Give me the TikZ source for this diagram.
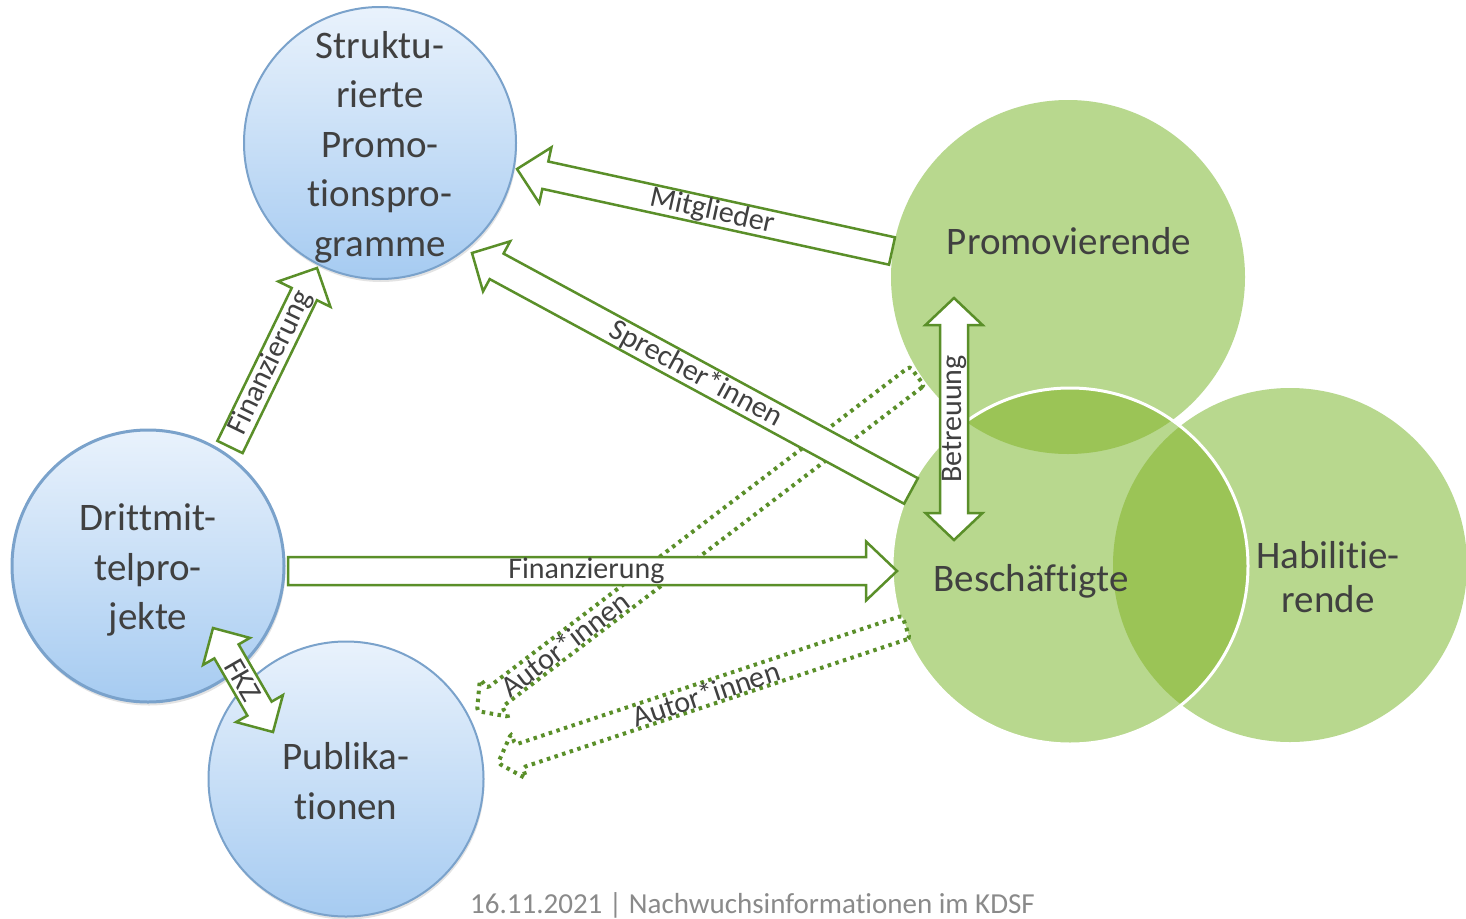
\documentclass[tikz,border=0pt]{standalone}
\usepackage{fontspec}
\setmainfont{Carlito}[Ligatures={NoCommon}]
\usetikzlibrary{calc,shadows}
\definecolor{txt}{HTML}{404040}
\definecolor{arrgreen}{HTML}{5A8F29}
\definecolor{lightgreen}{HTML}{B8D88E}
\definecolor{darkgreen}{HTML}{9BC456}
\definecolor{bluetop}{HTML}{E9F2FC}
\definecolor{bluebot}{HTML}{A6CBF1}
\definecolor{blueline}{HTML}{7AA2CB}
\definecolor{footgray}{HTML}{8A8A8A}

% block arrow from #3 (tail) to #4 (tip); #5 half shaft, #6 half head, #7 head length
\newcommand\blockarrow[7]{%
  \coordinate (#1-hb) at ($(#4)!#7!(#3)$);
  \draw[#2] ($(#3)!#5!90:(#4)$) -- ($(#1-hb)!#5!90:(#4)$) -- ($(#1-hb)!#6!90:(#4)$)
    -- (#4) -- ($(#1-hb)!#6!-90:(#4)$) -- ($(#1-hb)!#5!-90:(#4)$)
    -- ($(#3)!#5!-90:(#4)$) -- cycle;
}
% double-headed block arrow between #3 and #4
\newcommand\doublearrow[7]{%
  \coordinate (#1-ha) at ($(#3)!#7!(#4)$);
  \coordinate (#1-hb) at ($(#4)!#7!(#3)$);
  \draw[#2] (#3) -- ($(#1-ha)!#6!90:(#4)$) -- ($(#1-ha)!#5!90:(#4)$)
    -- ($(#1-hb)!#5!90:(#4)$) -- ($(#1-hb)!#6!90:(#4)$) -- (#4)
    -- ($(#1-hb)!#6!-90:(#4)$) -- ($(#1-hb)!#5!-90:(#4)$)
    -- ($(#1-ha)!#5!-90:(#4)$) -- ($(#1-ha)!#6!-90:(#4)$) -- cycle;
}

\begin{document}
\begin{tikzpicture}[x=1pt,y=-1pt,
  bluecirc/.style={circle, draw=blueline, line width=2pt, top color=bluetop,
    bottom color=bluebot, inner sep=0pt,
    drop shadow={opacity=0.22, shadow xshift=1pt, shadow yshift=-3pt}},
  bluetext/.style={text=txt, align=center,
    font=\fontsize{39}{49.5}\selectfont, inner sep=0pt},
  greencirc/.style={circle, fill=lightgreen, inner sep=0pt},
  bigtext/.style={text=txt, align=center, font=\fontsize{39}{44}\selectfont, inner sep=0pt},
  solidarrow/.style={draw=arrgreen, fill=white, line width=2.5pt, line join=miter},
  dotarrow/.style={draw=arrgreen, fill=white, line width=4pt,
    dash pattern=on 3.5pt off 4.5pt, rounded corners=3pt},
  lbl/.style={text=txt, font=\fontsize{30}{36}\selectfont, inner sep=0pt},
]
\useasboundingbox (0,0) rectangle (1466,918);
\fill[white] (0,0) rectangle (1466,918);

% blue circles
\node[bluecirc, minimum size=272pt] (spp) at (380,143) {};
\node[bluecirc, minimum size=273pt] (dmp) at (148,566) {};
\node[bluecirc, minimum size=275pt] (pub) at (346,779) {};
\draw[blueline, line width=2pt] (dmp.center) circle[radius=135.5];
\node[bluetext] (spptxt) at (380,147) {Struktu-\\rierte\\Promo-\\tionspro-\\gramme};
\node[bluetext] (dmptxt) at (148,570) {Drittmit-\\telpro-\\jekte};
\node[bluetext] (pubtxt) at (346,781) {Publika-\\tionen};

% green Venn circles
\node[greencirc, minimum size=354pt] (prom) at (1068,277) {};
\node[greencirc, minimum size=354pt] (habil) at (1290,565) {};
\node[greencirc, minimum size=356pt] (besch) at (1070,566) {};
\begin{scope}
  \clip (prom.center) circle[radius=177];
  \fill[darkgreen] (besch.center) circle[radius=178];
\end{scope}
\begin{scope}
  \clip (habil.center) circle[radius=177];
  \fill[darkgreen] (besch.center) circle[radius=178];
\end{scope}
\draw[white, line width=3pt] (besch.center) circle[radius=178];

\node[bigtext] (promtxt) at (1069,241) {Promovierende};
\node[bigtext] (beschtxt) at (1031,581) {Beschäftigte};
\node[bigtext] (habiltxt) at (1328,577) {Habilitie-\\rende};

% arrow end points
\coordinate (au1T) at (917,376);  \coordinate (au1H) at (477,711);
\coordinate (au2T) at (906,627);  \coordinate (au2H) at (498,763);
\coordinate (fhT)  at (288,571);  \coordinate (fhH)  at (897,571);
\coordinate (sprT) at (911,491);  \coordinate (sprH) at (472,253);
\coordinate (mitT) at (892,251);  \coordinate (mitH) at (517,169);
\coordinate (fvT)  at (230,447);  \coordinate (fvH)  at (317,268);
\coordinate (betA) at (954,540);  \coordinate (betB) at (954,298);
\coordinate (fkzA) at (213,628);  \coordinate (fkzB) at (273,732);

% dotted arrows (Autor*innen)
\blockarrow{au1}{dotarrow}{au1T}{au1H}{12pt}{24pt}{22pt}
\path (au1T) -- (au1H) node[lbl, sloped, pos=0.8] (au1lbl) {Autor*innen};
\blockarrow{au2}{dotarrow}{au2T}{au2H}{12pt}{24pt}{22pt}
\path (au2T) -- (au2H) node[lbl, sloped, pos=0.49] (au2lbl) {Autor*innen};

% solid arrows
\blockarrow{fh}{solidarrow}{fhT}{fhH}{14pt}{29.5pt}{31pt}
\path (fhT) -- (fhH) node[lbl, sloped, pos=0.49] (fhlbl) {Finanzierung};
\blockarrow{spr}{solidarrow}{sprT}{sprH}{14.5pt}{28.5pt}{28pt}
\path (sprT) -- (sprH) node[lbl, sloped, pos=0.49] (sprlbl) {Sprecher*innen};
\blockarrow{mit}{solidarrow}{mitT}{mitH}{14pt}{28.5pt}{29pt}
\path (mitT) -- (mitH) node[lbl, sloped, pos=0.48] (mitlbl) {Mitglieder};
\blockarrow{fv}{solidarrow}{fvT}{fvH}{14pt}{29pt}{29pt}
\path (fvT) -- (fvH) node[lbl, sloped, pos=0.47] (fvlbl) {Finanzierung};
\doublearrow{bet}{solidarrow}{betA}{betB}{14pt}{28.5pt}{27pt}
\path (betA) -- (betB) node[lbl, sloped, midway] (betlbl) {Betreuung};
\doublearrow{fkz}{solidarrow}{fkzA}{fkzB}{14pt}{27pt}{27pt}
\path (fkzA) -- (fkzB) node[lbl, sloped, midway] (fkzlbl) {FKZ};

% footer
\node[text=footgray, font=\fontsize{29}{34}\selectfont, anchor=base, inner sep=0pt]
  (foot) at (752.5,913) {16.11.2021 | Nachwuchsinformationen im KDSF};
\end{tikzpicture}
\end{document}
